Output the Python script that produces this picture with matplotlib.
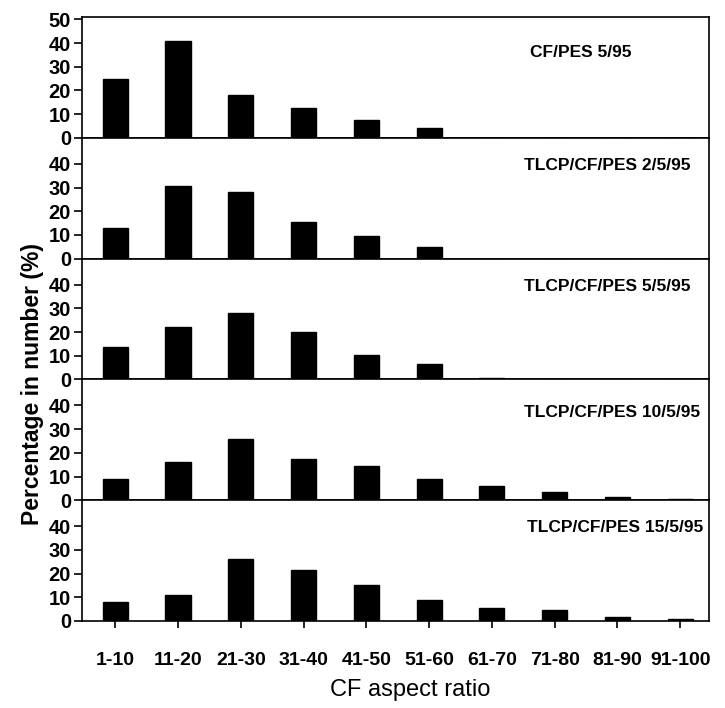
import numpy as np
import matplotlib
matplotlib.use("Agg")
import matplotlib.pyplot as plt

# aspect ratio classes (x axis)
categories = ["1-10", "11-20", "21-30", "31-40", "41-50",
              "51-60", "61-70", "71-80", "81-90", "91-100"]

# percentage in number for each blend
cf_pes_5_95 = [25, 41, 18, 12.5, 7.5, 4, 0, 0, 0, 0]
tlcp_2_5_95 = [13, 30.5, 28, 15.5, 9.5, 5, 0, 0, 0, 0]
tlcp_5_5_95 = [13.5, 22, 28, 20, 10.5, 6.5, 0.5, 0, 0, 0]
tlcp_10_5_95 = [9, 16, 26, 17.5, 14.5, 9, 6, 3.5, 1.5, 0.3]
tlcp_15_5_95 = [8, 11, 26, 21.5, 15, 9, 5.5, 4.5, 1.8, 0.8]

panel_labels = ["CF/PES 5/95", "TLCP/CF/PES 2/5/95", "TLCP/CF/PES 5/5/95",
                "TLCP/CF/PES 10/5/95", "TLCP/CF/PES 15/5/95"]
series = [cf_pes_5_95, tlcp_2_5_95, tlcp_5_5_95, tlcp_10_5_95, tlcp_15_5_95]

plt.rcParams['font.family'] = ['Liberation Sans', 'DejaVu Sans']

W, H = 725, 708
fig = plt.figure(figsize=(W / 100, H / 100), dpi=100)

left, right = 82 / W, 709 / W
top, bottom = 1 - 17 / H, 1 - 621 / H
ph = (top - bottom) / 5

label_x = [0.715, 0.705, 0.705, 0.705, 0.710]
label_y = [0.71, 0.77, 0.77, 0.73, 0.77]

x = np.arange(len(categories))
axes = []
for i, (vals, lab) in enumerate(zip(series, panel_labels)):
    ax = fig.add_axes([left, top - (i + 1) * ph, right - left, ph])
    ax.bar(x, vals, width=0.4, color='black', edgecolor='black')
    ax.set_xlim(-0.53, 9.46)
    ax.set_ylim(0, 51)
    if i == 0:
        ax.set_yticks([0, 10, 20, 30, 40, 50])
    else:
        ax.set_yticks([0, 10, 20, 30, 40])
    ax.set_xticks(x)
    for s in ax.spines.values():
        s.set_linewidth(1.2)
    ax.tick_params(axis='y', direction='out', length=6, width=1.2, pad=2,
                   labelsize=14.5)
    ax.tick_params(axis='x', direction='out', length=5, width=1.2, pad=17,
                   labelsize=14)
    for t in ax.get_yticklabels():
        t.set_fontweight('bold')
    if i < 4:
        ax.set_xticklabels([])
    else:
        ax.set_xticklabels(categories, fontweight='bold')
    ax.text(label_x[i], label_y[i], lab, transform=ax.transAxes,
            fontsize=12.5, fontweight='bold', ha='left', va='center')
    axes.append(ax)

fig.text(410 / W, 1 - 690 / H, "CF aspect ratio", fontsize=17,
         ha='center', va='center')
fig.text(33 / W, 1 - 384 / H, "Percentage in number (%)", fontsize=16.5,
         fontweight='bold', rotation=90, ha='center', va='center')

fig.savefig("out.png", dpi=100)
